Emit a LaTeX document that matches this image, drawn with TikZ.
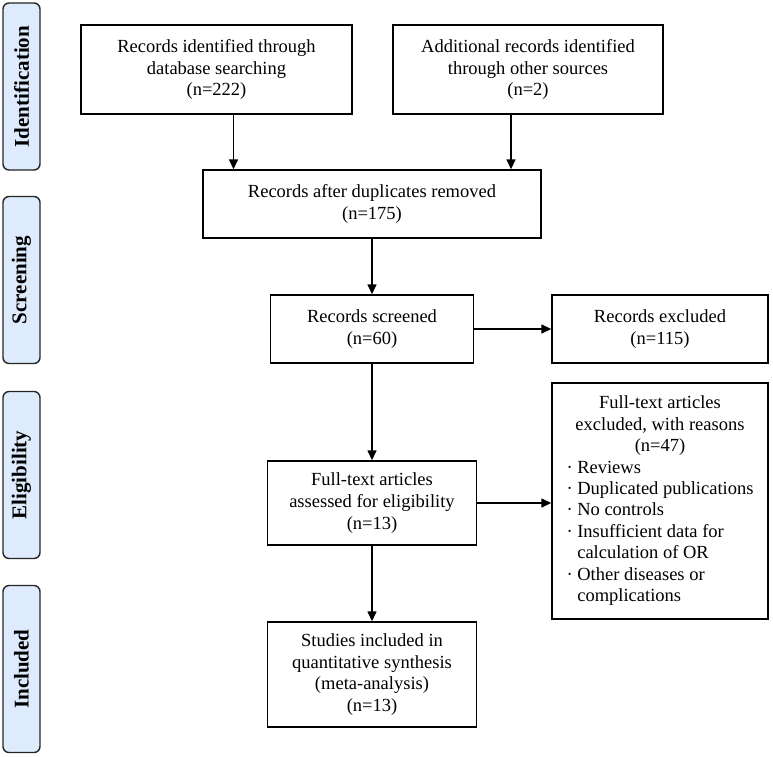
\documentclass[tikz,border=0pt]{standalone}
\usepackage{fontspec}
\setmainfont{Liberation Serif}
\usetikzlibrary{arrows.meta}
\definecolor{phasefill}{RGB}{221,235,252}
\tikzset{
  box/.style={draw,line width=1.4pt,align=center,inner sep=0pt,font=\fontsize{18.5}{21.7}\selectfont},
  phase/.style={draw=black!85,line width=1.4pt,fill=phasefill,rounded corners=6pt,rotate=90,
    minimum width=167pt,minimum height=37pt,inner sep=0pt,font=\fontsize{21}{24}\selectfont\bfseries},
  flow/.style={->,line width=1.4pt}
}
\begin{document}
\begin{tikzpicture}[>={Triangle[length=10pt,width=9pt]},x=1pt,y=-1pt]
	\useasboundingbox (0,0) rectangle (773,756);
	% phases
	\node[phase] (lid) at (21.5,86.5) {Identification};
	\node[phase] (lsc) at (21.5,280) {Screening};
	\node[phase] (lel) at (21.5,475) {Eligibility};
	\node[phase] (lin) at (21.5,669) {Included};
	% boxes
	\node[box,minimum width=271pt,minimum height=89pt] (rec) at (216.5,69.5) {Records identified through\\database searching\\(n=222)};
	\node[box,minimum width=270pt,minimum height=89pt] (add) at (528,69.5) {Additional records identified\\through other sources\\(n=2)};
	\node[box,minimum width=338pt,minimum height=68pt] (dup) at (372,204) {Records after duplicates removed\\(n=175)};
	\node[box,minimum width=203pt,minimum height=68pt] (scr) at (372,329) {Records screened\\(n=60)};
	\node[box,minimum width=216pt,minimum height=68pt] (exc) at (660,329) {Records excluded\\(n=115)};
	\node[box,minimum width=209pt,minimum height=84pt] (full) at (372,503) {Full-text articles\\assessed for eligibility\\(n=13)};
	\node[box,minimum width=216pt,minimum height=236pt,font=\fontsize{18.5}{21.4}\selectfont] (fexc) at (660,501) {%
		\begin{tabular}{@{}l@{}}
		\multicolumn{1}{@{}c@{}}{Full-text articles}\\
		\multicolumn{1}{@{}c@{}}{excluded, with reasons}\\
		\multicolumn{1}{@{}c@{}}{(n=47)}\\
		· Reviews\\
		· Duplicated publications\\
		· No controls\\
		· Insufficient data for\\
		\phantom{· }calculation of OR\\
		· Other diseases or\\
		\phantom{· }complications
		\end{tabular}};
	\node[box,minimum width=209pt,minimum height=105pt] (inc) at (372,674.5) {Studies included in\\quantitative synthesis\\(meta-analysis)\\(n=13)};
	% connectors
	\draw[flow] ([xshift=17pt]rec.south) -- ([xshift=17pt]rec.south |- dup.north);
	\draw[flow] ([xshift=-17pt]add.south) -- ([xshift=-17pt]add.south |- dup.north);
	\draw[flow] (dup) -- (scr);
	\draw[flow] (scr) -- (exc);
	\draw[flow] (scr) -- (full);
	\draw[flow] (full.east) -- (full.east -| fexc.west);
	\draw[flow] (full) -- (inc);
\end{tikzpicture}
\end{document}
